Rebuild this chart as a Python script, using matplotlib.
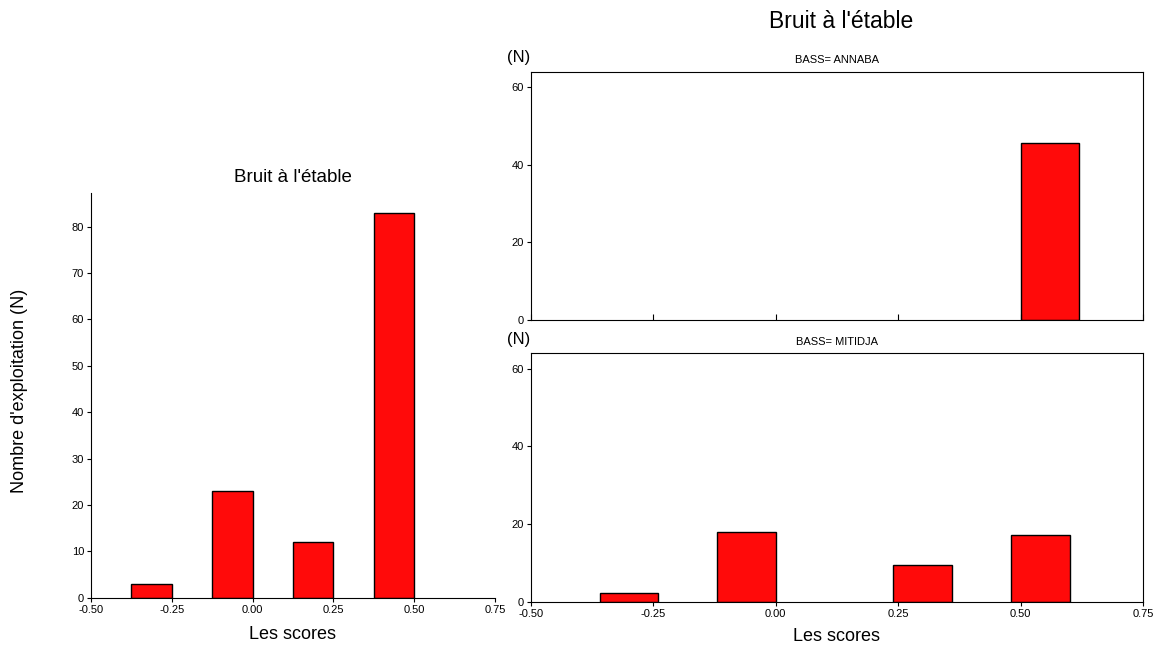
import matplotlib.pyplot as plt
import numpy as np

plt.rcParams['font.family'] = ['Liberation Sans', 'DejaVu Sans']

RED = '#ff0a0a'

# Left: overall histogram
left_edges = [-0.375, -0.125, 0.125, 0.375]
left_counts = [3, 23, 12, 83]
left_width = 0.125

# Right: by BASS
annaba_edges = [0.5]
annaba_counts = [45.6]
mitidja_edges = [-0.36, -0.12, 0.24, 0.48]
mitidja_counts = [2.3, 17.9, 9.4, 17.2]
right_width = 0.12

xticks = [-0.50, -0.25, 0.00, 0.25, 0.50, 0.75]
xticklabels = ['-0.50', '-0.25', '0.00', '0.25', '0.50', '0.75']
left_yticks = [0, 10, 20, 30, 40, 50, 60, 70, 80]
right_yticks = [0, 20, 40, 60]

title = "Bruit à l'étable"

fig = plt.figure(figsize=(11.62, 6.48), dpi=100)

# ---- left chart ----
ax = fig.add_axes([0.0783, 0.0776, 0.3477, 0.6244])
ax.bar(left_edges, left_counts, width=left_width, align='edge',
       color=RED, edgecolor='black', linewidth=1)
ax.set_xlim(-0.5, 0.75)
ax.set_ylim(0, 87.2)
ax.set_xticks(xticks)
ax.set_xticklabels(xticklabels)
ax.set_yticks(left_yticks)
ax.tick_params(axis='both', labelsize=8, length=3, width=0.8, pad=2)
ax.spines['top'].set_visible(False)
ax.spines['right'].set_visible(False)
ax.set_title(title, fontsize=13.5, pad=8)
ax.set_xlabel('Les scores', fontsize=13, labelpad=8)
ax.set_ylabel("Nombre d'exploitation (N)", fontsize=13)
ax.yaxis.set_label_coords(-0.155, 0.51)

# ---- right charts ----
panels = [
    ([0.457, 0.5062, 0.5266, 0.3832], annaba_edges, annaba_counts, 'BASS= ANNABA', False),
    ([0.457, 0.0715, 0.5266, 0.3833], mitidja_edges, mitidja_counts, 'BASS= MITIDJA', True),
]
for pos, edges, counts, label, show_x in panels:
    ax = fig.add_axes(pos)
    ax.bar(edges, counts, width=right_width, align='edge',
           color=RED, edgecolor='black', linewidth=1)
    ax.set_xlim(-0.5, 0.75)
    ax.set_ylim(0, 64)
    ax.set_xticks(xticks)
    ax.set_yticks(right_yticks)
    if show_x:
        ax.set_xticklabels(xticklabels)
        ax.set_xlabel('Les scores', fontsize=13, labelpad=7)
        ax.tick_params(axis='x', direction='out', length=3, labelsize=8, pad=2)
    else:
        ax.set_xticklabels([])
        ax.tick_params(axis='x', direction='in', length=4)
    ax.tick_params(axis='y', direction='out', length=3, labelsize=8, pad=2)
    ax.text(0.5, 1.045, label, transform=ax.transAxes, ha='center', va='center',
            fontsize=8)
    ax.text(-0.04, 1.025, '(N)', transform=ax.transAxes, ha='left', va='bottom',
            fontsize=12)

fig.text(0.7237, 0.967, title, ha='center', va='center', fontsize=16.5)

fig.savefig('out.png', dpi=100)
